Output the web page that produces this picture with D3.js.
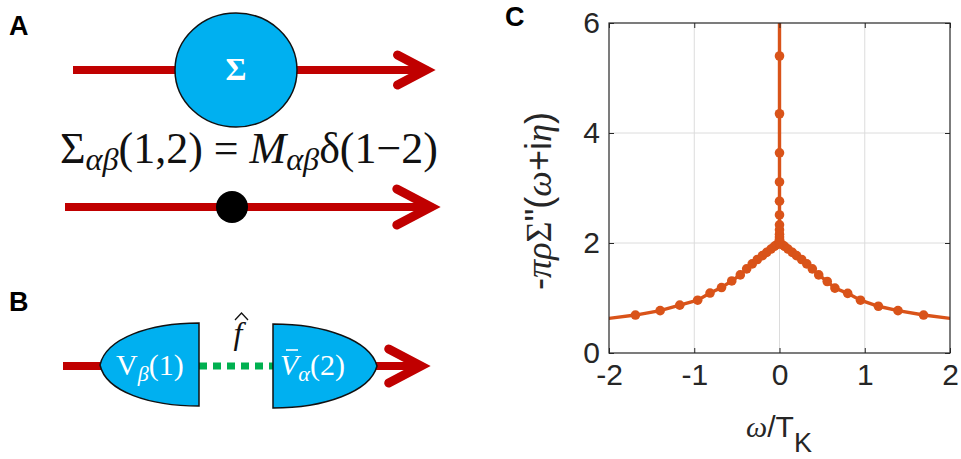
<!doctype html>
<html lang="en">
<head>
<meta charset="utf-8">
<title>Self-energy diagram and spectrum</title>
<style>
  body { margin: 0; background: #fff; }
  svg { display: block; }
  .sans { font-family: "Liberation Sans", Arial, Helvetica, sans-serif; }
  .serif { font-family: "Liberation Serif", "DejaVu Serif", serif; }
</style>
<script src="https://d3js.org/d3.v7.min.js"></script>
</head>
<body>
<svg id="fig" width="961" height="459"></svg>
<script>
// ---- data ----
// left wing (omega < 0)
var omegaLeft = [-2.1, -1.69, -1.40, -1.17, -0.96, -0.815, -0.68, -0.56, -0.46, -0.385,
                 -0.32, -0.26, -0.20, -0.15, -0.10, -0.06, -0.03, 0];
var sigmaLeft = [0.61, 0.69, 0.77, 0.87, 0.96, 1.09, 1.19, 1.31, 1.42, 1.53,
                 1.62, 1.70, 1.77, 1.83, 1.89, 1.94, 1.97, 2.0];
// right wing (omega > 0)
var omegaRight = [0, 0.03, 0.06, 0.10, 0.15, 0.20, 0.26, 0.32, 0.385, 0.46,
                  0.56, 0.65, 0.80, 0.95, 1.16, 1.39, 1.69, 2.1];
var sigmaRight = [2.0, 1.97, 1.94, 1.89, 1.83, 1.77, 1.70, 1.62, 1.53, 1.42,
                  1.30, 1.18, 1.085, 0.96, 0.85, 0.77, 0.69, 0.61];
// branch sitting at omega = 0 (shrinking eta)
var sigmaCenter = [2.0, 2.03, 2.07, 2.11, 2.16, 2.24, 2.33, 2.51, 2.76, 3.11, 3.64, 4.35, 5.4, 7.0];

var xTicks = [-2, -1, 0, 1, 2];
var yTicks = [0, 2, 4, 6];

var red = "#c00000", blue = "#00b0f0", green = "#00b050", orange = "#d95319";

var svg = d3.select("#fig");

// ---------------- panel letters ----------------
svg.append("text").attr("class", "sans").attr("x", 9).attr("y", 35)
  .attr("font-size", 27).attr("font-weight", "bold").text("A");
svg.append("text").attr("class", "sans").attr("x", 9).attr("y", 311)
  .attr("font-size", 27).attr("font-weight", "bold").text("B");
svg.append("text").attr("class", "sans").attr("x", 505).attr("y", 26)
  .attr("font-size", 27).attr("font-weight", "bold").text("C");

// ---------------- panel A ----------------
function arrow(g, x0, y, head, tip, w) {
  g.append("line").attr("x1", x0).attr("x2", tip - 8).attr("y1", y).attr("y2", y)
    .attr("stroke", red).attr("stroke-width", w);
  g.append("path")
    .attr("d", "M" + (tip - 10 - head * 1.9) + "," + (y - head) + " L" + (tip - 10) + "," + y +
               " L" + (tip - 10 - head * 1.9) + "," + (y + head))
    .attr("fill", "none").attr("stroke", red).attr("stroke-width", w + 1)
    .attr("stroke-linecap", "round").attr("stroke-linejoin", "miter");
}

var pA = svg.append("g");
arrow(pA, 73, 70, 15, 436, 8);
pA.append("ellipse").attr("cx", 236).attr("cy", 70).attr("rx", 61).attr("ry", 57)
  .attr("fill", blue).attr("stroke", "#111").attr("stroke-width", 1.5);
pA.append("text").attr("class", "serif").attr("x", 236).attr("y", 80)
  .attr("text-anchor", "middle").attr("font-size", 32).attr("font-weight", "bold")
  .attr("fill", "#fff").text("Σ");

var eq = pA.append("text").attr("class", "serif").attr("x", 60).attr("y", 163)
  .attr("font-size", 30).attr("fill", "#111");
eq.append("tspan").text("Σ");
eq.append("tspan").attr("font-style", "italic").attr("font-size", 22).attr("dy", 7).text("αβ");
eq.append("tspan").attr("dy", -7).text("(1,2) = ");
eq.append("tspan").attr("font-style", "italic").text("M");
eq.append("tspan").attr("font-style", "italic").attr("font-size", 22).attr("dy", 7).text("αβ");
eq.append("tspan").attr("dy", -7).text("δ(1−2)");
var bw = eq.node().getBBox().width;
eq.attr("font-size", 30 * 378 / bw);
eq.selectAll("tspan").filter(function() { return this.getAttribute("font-size"); })
  .attr("font-size", 22 * 378 / bw);

arrow(pA, 65, 207, 18, 441, 8);
pA.append("circle").attr("cx", 232).attr("cy", 207).attr("r", 16).attr("fill", "#000");

// ---------------- panel B ----------------
var pB = svg.append("g");
pB.append("line").attr("x1", 63).attr("x2", 104).attr("y1", 366).attr("y2", 366)
  .attr("stroke", red).attr("stroke-width", 8);
arrow(pB, 372, 366, 17, 431, 8);
pB.append("line").attr("x1", 199).attr("x2", 273).attr("y1", 366).attr("y2", 366)
  .attr("stroke", green).attr("stroke-width", 7).attr("stroke-dasharray", "8,6");
pB.append("path")
  .attr("d", "M199,323 C150,323 106,338 100,365 C106,392 150,406 199,406 Z")
  .attr("fill", blue).attr("stroke", "#111").attr("stroke-width", 1.5);
pB.append("path")
  .attr("d", "M273,324 C324,324 370,340 377,366 C370,392 324,408 273,408 Z")
  .attr("fill", blue).attr("stroke", "#111").attr("stroke-width", 1.5);

var t1 = pB.append("text").attr("class", "serif").attr("x", 116).attr("y", 375)
  .attr("font-size", 30).attr("fill", "#fff");
t1.append("tspan").text("V");
t1.append("tspan").attr("font-style", "italic").attr("font-size", 22).attr("dy", 6).text("β");
t1.append("tspan").attr("dy", -6).text("(1)");

var t2 = pB.append("text").attr("class", "serif").attr("x", 280).attr("y", 375)
  .attr("font-size", 30).attr("fill", "#fff");
t2.append("tspan").attr("font-style", "italic").text("V");
t2.append("tspan").attr("font-style", "italic").attr("font-size", 22).attr("dy", 6).text("α");
t2.append("tspan").attr("dy", -6).text("(2)");
pB.append("line").attr("x1", 286).attr("x2", 298).attr("y1", 350).attr("y2", 350)
  .attr("stroke", "#fff").attr("stroke-width", 1.6);

pB.append("text").attr("class", "serif").attr("x", 238).attr("y", 344)
  .attr("text-anchor", "middle").attr("font-size", 32).attr("font-style", "italic")
  .attr("fill", "#111").text("f");
pB.append("path").attr("d", "M235,320 L241.5,313 L248,320")
  .attr("fill", "none").attr("stroke", "#111").attr("stroke-width", 1.3);

// ---------------- panel C ----------------
var x = d3.scaleLinear().domain([-2, 2]).range([609, 950]);
var y = d3.scaleLinear().domain([0, 6]).range([353, 23]);

var pC = svg.append("g");
pC.append("defs").append("clipPath").attr("id", "clipC")
  .append("rect").attr("x", 609).attr("y", 23).attr("width", 341).attr("height", 330);

// grid
pC.append("g").selectAll("line").data(xTicks.slice(1, -1)).enter().append("line")
  .attr("x1", function(d) { return x(d); }).attr("x2", function(d) { return x(d); })
  .attr("y1", 23).attr("y2", 353).attr("stroke", "#dcdcdc").attr("stroke-width", 1);
pC.append("g").selectAll("line").data(yTicks.slice(1, -1)).enter().append("line")
  .attr("y1", function(d) { return y(d); }).attr("y2", function(d) { return y(d); })
  .attr("x1", 609).attr("x2", 950).attr("stroke", "#dcdcdc").attr("stroke-width", 1);

// series
var series = [
  omegaLeft.map(function(w, i) { return [w, sigmaLeft[i]]; }),
  omegaRight.map(function(w, i) { return [w, sigmaRight[i]]; }),
  sigmaCenter.map(function(s) { return [0, s]; })
];
var line = d3.line().x(function(d) { return x(d[0]); }).y(function(d) { return y(d[1]); });
var plot = pC.append("g").attr("clip-path", "url(#clipC)");
plot.selectAll("path.ser").data(series).enter().append("path").attr("class", "ser")
  .attr("d", line).attr("fill", "none").attr("stroke", orange).attr("stroke-width", 3.4);
plot.selectAll("circle").data(d3.merge(series)).enter().append("circle")
  .attr("cx", function(d) { return x(d[0]); }).attr("cy", function(d) { return y(d[1]); })
  .attr("r", 4.8).attr("fill", orange);

// axes
pC.append("g").attr("transform", "translate(0,353)")
  .call(d3.axisBottom(x).tickValues(xTicks).tickSizeInner(-5).tickSizeOuter(0).tickPadding(11)
        .tickFormat(function(d) { return d < 0 ? "-" + Math.abs(d) : d; }));
pC.append("g").attr("transform", "translate(609,0)")
  .call(d3.axisLeft(y).tickValues(yTicks).tickSizeInner(-5).tickSizeOuter(0).tickPadding(9)
        .tickFormat(d3.format("d")));
pC.append("g").attr("transform", "translate(0,23)")
  .call(d3.axisTop(x).tickValues(xTicks).tickSizeInner(-5).tickSizeOuter(0).tickFormat(""));
pC.append("g").attr("transform", "translate(950,0)")
  .call(d3.axisRight(y).tickValues(yTicks).tickSizeInner(-5).tickSizeOuter(0).tickFormat(""));
pC.selectAll(".domain").remove();
pC.selectAll(".tick line").attr("stroke", "#262626");
pC.selectAll(".tick text").attr("font-size", 30).attr("fill", "#262626")
  .attr("font-family", "'Liberation Sans', Arial, sans-serif");
pC.append("rect").attr("x", 609).attr("y", 23).attr("width", 341).attr("height", 330)
  .attr("fill", "none").attr("stroke", "#262626").attr("stroke-width", 1.2);

// axis labels
var xl = pC.append("text").attr("class", "sans").attr("x", 779).attr("y", 437)
  .attr("text-anchor", "middle").attr("font-size", 30).attr("fill", "#262626");
xl.append("tspan").attr("font-style", "italic").attr("class", "serif").text("ω");
xl.append("tspan").text("/T");
xl.append("tspan").attr("font-size", 27).attr("dy", 15).text("K");

var yl = pC.append("text").attr("class", "sans")
  .attr("transform", "translate(551,201) rotate(-90)")
  .attr("text-anchor", "middle").attr("font-size", 28).attr("fill", "#262626");
yl.append("tspan").text("-");
yl.append("tspan").attr("class", "serif").attr("font-style", "italic").text("πρ");
yl.append("tspan").attr("class", "serif").text("Σ");
yl.append("tspan").text("\"(");
yl.append("tspan").attr("class", "serif").attr("font-style", "italic").text("ω");
yl.append("tspan").text("+i");
yl.append("tspan").attr("class", "serif").attr("font-style", "italic").text("η");
yl.append("tspan").text(")");
// fit the label to the span it takes in the reference
var lw = yl.node().getBBox().width;
yl.attr("font-size", 28 * 178 / lw);
</script>
</body>
</html>
